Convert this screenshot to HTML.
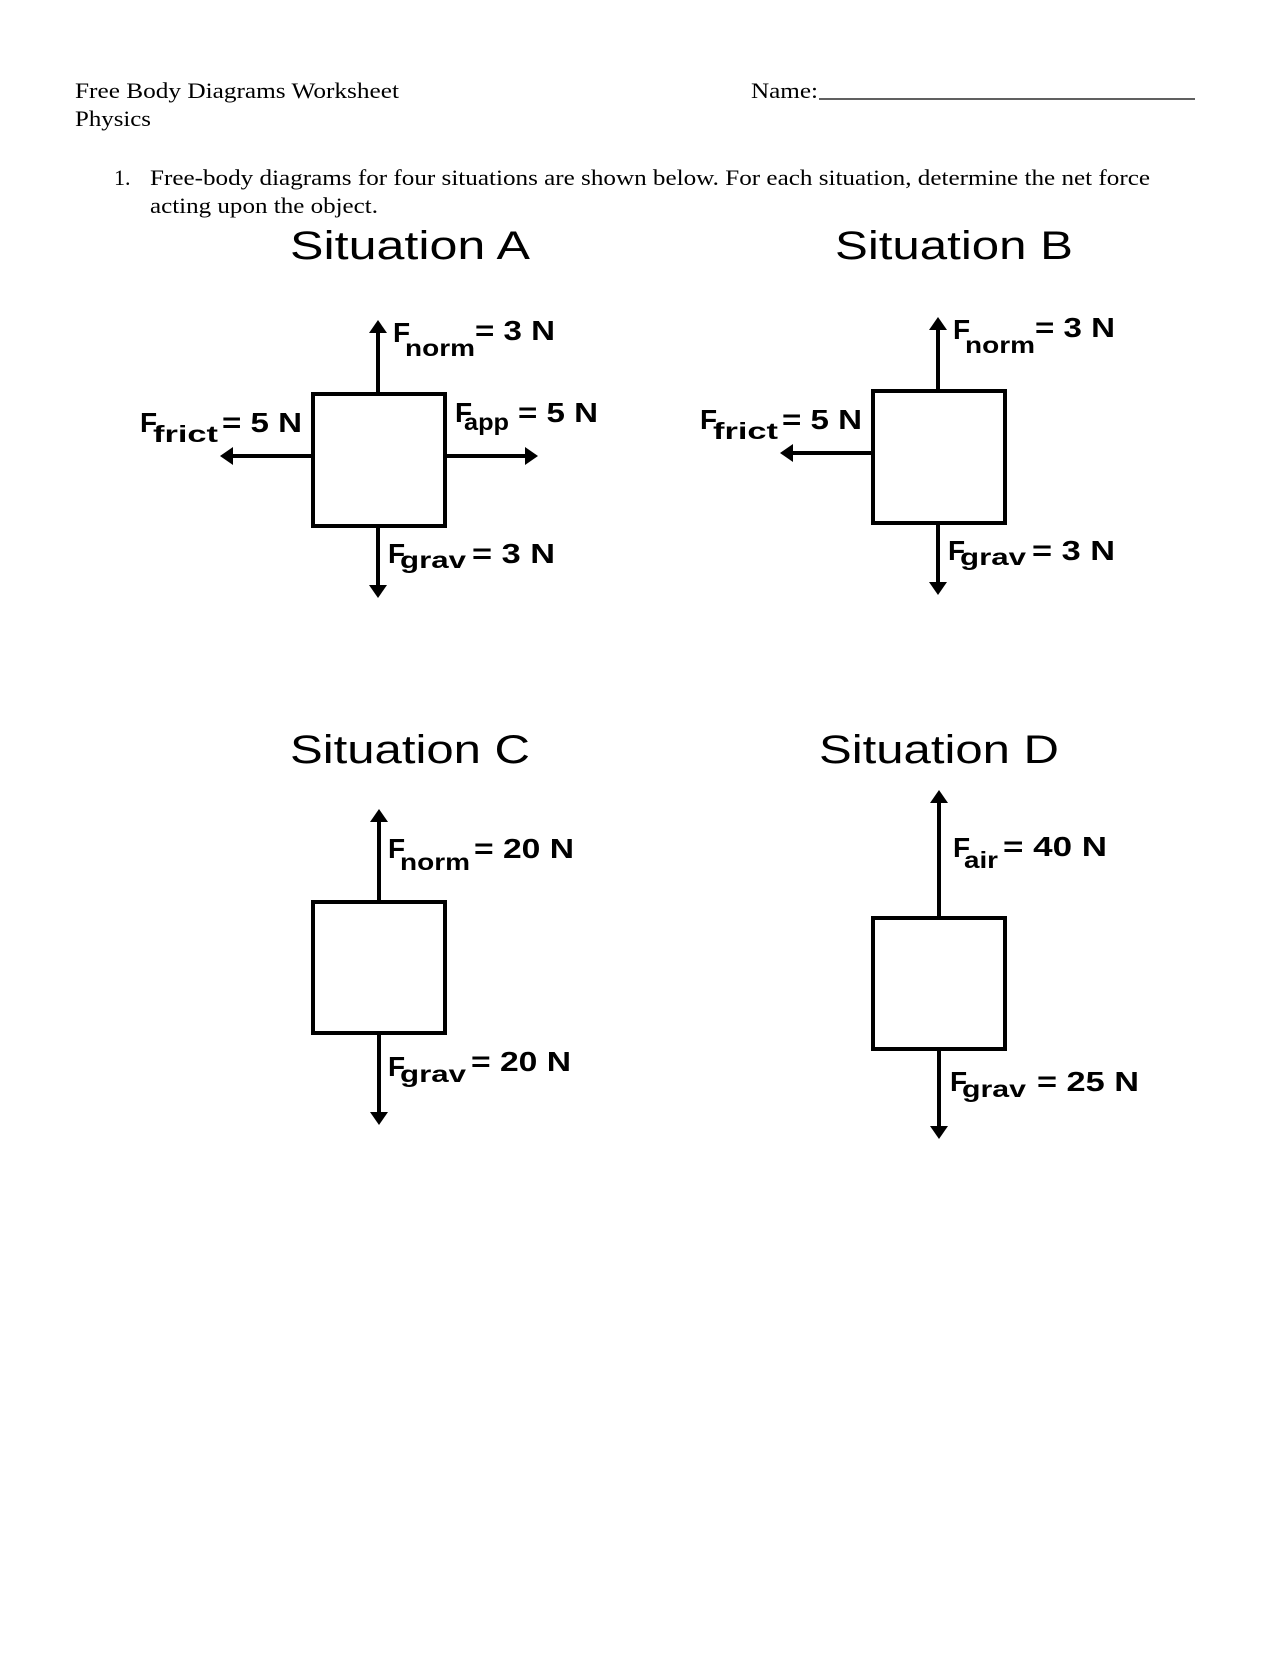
<!DOCTYPE html>
<html><head><meta charset="utf-8"><style>
html,body{margin:0;padding:0;background:#fff;}
svg{display:block;}
.t{font-family:"Liberation Serif",serif;font-size:22px;fill:#000;}
.h{font-family:"Liberation Sans",sans-serif;font-size:40px;fill:#000;}
.L{font-family:"Liberation Sans",sans-serif;font-weight:bold;font-size:28px;fill:#000;}
.s{font-family:"Liberation Sans",sans-serif;font-weight:bold;font-size:23px;fill:#000;}
</style></head><body>
<svg width="1280" height="1656" viewBox="0 0 1280 1656" xmlns="http://www.w3.org/2000/svg">
<text class="t" x="75" y="98" textLength="324" lengthAdjust="spacingAndGlyphs">Free Body Diagrams Worksheet</text>
<text class="t" x="75" y="126" textLength="76" lengthAdjust="spacingAndGlyphs">Physics</text>
<text class="t" x="751" y="98" textLength="67" lengthAdjust="spacingAndGlyphs">Name:</text>
<line x1="819" y1="99" x2="1195" y2="99" stroke="#000" stroke-width="1.3"/>
<text class="t" x="114" y="185">1.</text>
<text class="t" x="150" y="185" textLength="1000" lengthAdjust="spacingAndGlyphs">Free-body diagrams for four situations are shown below. For each situation, determine the net force</text>
<text class="t" x="150" y="213" textLength="228" lengthAdjust="spacingAndGlyphs">acting upon the object.</text>

<text class="h" x="290" y="259" textLength="240" lengthAdjust="spacingAndGlyphs">Situation A</text>
<text class="h" x="835" y="259" textLength="238" lengthAdjust="spacingAndGlyphs">Situation B</text>
<text class="h" x="290" y="763" textLength="240" lengthAdjust="spacingAndGlyphs">Situation C</text>
<text class="h" x="819" y="763" textLength="240" lengthAdjust="spacingAndGlyphs">Situation D</text>

<g fill="none" stroke="#000" stroke-width="4">
<rect x="313" y="394" width="132" height="132"/>
<line x1="378" y1="392" x2="378" y2="330"/>
<line x1="378" y1="528" x2="378" y2="588"/>
<line x1="311" y1="456" x2="228" y2="456"/>
<line x1="447" y1="456" x2="530" y2="456"/>
<rect x="873" y="391" width="132" height="132"/>
<line x1="938" y1="389" x2="938" y2="327"/>
<line x1="938" y1="525" x2="938" y2="585"/>
<line x1="871" y1="453" x2="788" y2="453"/>
<rect x="313" y="902" width="132" height="131"/>
<line x1="379" y1="900" x2="379" y2="818"/>
<line x1="379" y1="1035" x2="379" y2="1116"/>
<rect x="873" y="918" width="132" height="131"/>
<line x1="939" y1="916" x2="939" y2="799"/>
<line x1="939" y1="1051" x2="939" y2="1130"/>
</g>
<g fill="#000">
<polygon points="378,320 369,333 387,333"/>
<polygon points="378,598 369,585 387,585"/>
<polygon points="220,456 233,447 233,465"/>
<polygon points="538,456 525,447 525,465"/>
<polygon points="938,317 929,330 947,330"/>
<polygon points="938,595 929,582 947,582"/>
<polygon points="780,453 793,444 793,462"/>
<polygon points="379,809 370,822 388,822"/>
<polygon points="379,1125 370,1112 388,1112"/>
<polygon points="939,790 930,803 948,803"/>
<polygon points="939,1139 930,1126 948,1126"/>
</g>

<text class="L" x="393" y="342">F</text><text class="s" x="405" y="356" textLength="70" lengthAdjust="spacingAndGlyphs">norm</text><text class="L" x="475" y="340" textLength="80" lengthAdjust="spacingAndGlyphs">= 3 N</text>
<text class="L" x="140" y="432">F</text><text class="s" x="153" y="442" textLength="65" lengthAdjust="spacingAndGlyphs">frict</text><text class="L" x="222" y="432" textLength="80" lengthAdjust="spacingAndGlyphs">= 5 N</text>
<text class="L" x="455" y="422">F</text><text class="s" x="464" y="430" textLength="45" lengthAdjust="spacingAndGlyphs">app</text><text class="L" x="518" y="422" textLength="80" lengthAdjust="spacingAndGlyphs">= 5 N</text>
<text class="L" x="388" y="563">F</text><text class="s" x="400" y="568" textLength="66" lengthAdjust="spacingAndGlyphs">grav</text><text class="L" x="472" y="563" textLength="83" lengthAdjust="spacingAndGlyphs">= 3 N</text>
<text class="L" x="953" y="339">F</text><text class="s" x="965" y="353" textLength="70" lengthAdjust="spacingAndGlyphs">norm</text><text class="L" x="1035" y="337" textLength="80" lengthAdjust="spacingAndGlyphs">= 3 N</text>
<text class="L" x="700" y="429">F</text><text class="s" x="713" y="439" textLength="65" lengthAdjust="spacingAndGlyphs">frict</text><text class="L" x="782" y="429" textLength="80" lengthAdjust="spacingAndGlyphs">= 5 N</text>
<text class="L" x="948" y="560">F</text><text class="s" x="960" y="565" textLength="66" lengthAdjust="spacingAndGlyphs">grav</text><text class="L" x="1032" y="560" textLength="83" lengthAdjust="spacingAndGlyphs">= 3 N</text>
<text class="L" x="388" y="858">F</text><text class="s" x="400" y="870" textLength="70" lengthAdjust="spacingAndGlyphs">norm</text><text class="L" x="474" y="858" textLength="100" lengthAdjust="spacingAndGlyphs">= 20 N</text>
<text class="L" x="388" y="1076">F</text><text class="s" x="400" y="1082" textLength="66" lengthAdjust="spacingAndGlyphs">grav</text><text class="L" x="471" y="1071" textLength="100" lengthAdjust="spacingAndGlyphs">= 20 N</text>
<text class="L" x="953" y="857">F</text><text class="s" x="964" y="868" textLength="34" lengthAdjust="spacingAndGlyphs">air</text><text class="L" x="1003" y="856" textLength="104" lengthAdjust="spacingAndGlyphs">= 40 N</text>
<text class="L" x="950" y="1091">F</text><text class="s" x="962" y="1097" textLength="64" lengthAdjust="spacingAndGlyphs">grav</text><text class="L" x="1037" y="1091" textLength="102" lengthAdjust="spacingAndGlyphs">= 25 N</text>
</svg>
</body></html>
